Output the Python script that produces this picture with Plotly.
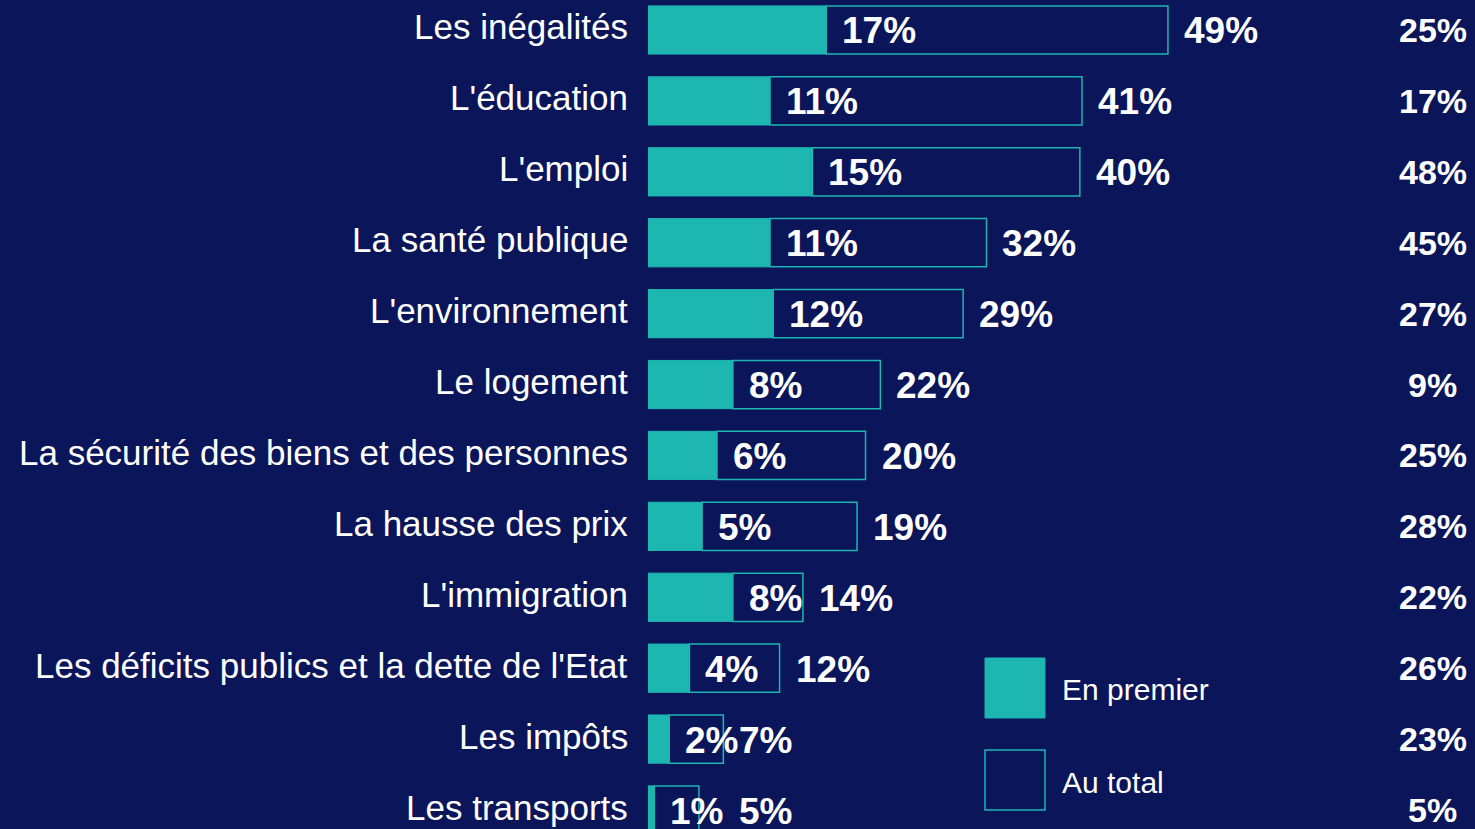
import plotly.graph_objects as go

categories = ["Les inégalités", "L'éducation", "L'emploi", "La santé publique",
              "L'environnement", "Le logement", "La sécurité des biens et des personnes",
              "La hausse des prix", "L'immigration",
              "Les déficits publics et la dette de l'Etat", "Les impôts", "Les transports"]
first_pct = [17, 11, 15, 11, 12, 8, 6, 5, 8, 4, 2, 1]
total_pct = [49, 41, 40, 32, 29, 22, 20, 19, 14, 12, 7, 5]
other_pct = [25, 17, 48, 45, 27, 9, 25, 28, 22, 26, 23, 5]
# bar lengths (unrounded)
first_len = [16.8, 11.5, 15.5, 11.5, 11.8, 8.0, 6.5, 5.1, 8.0, 3.9, 2.0, 0.6]
total_len = [49.0, 40.9, 40.7, 31.9, 29.7, 21.9, 20.5, 19.7, 14.6, 12.4, 7.1, 4.8]

BG = "#0b1559"
TEAL = "#1db6b1"
FONT = "Liberation Sans"

ypos = list(range(len(categories)))

fig = go.Figure()
fig.add_trace(go.Bar(
    y=ypos, x=first_len, orientation="h", width=0.68,
    marker=dict(color=TEAL, line=dict(color=TEAL, width=1)),
    name="En premier", showlegend=False, hoverinfo="skip"))
fig.add_trace(go.Bar(
    y=ypos, x=[t - f for t, f in zip(total_len, first_len)], base=first_len,
    orientation="h", width=0.68,
    marker=dict(color=BG, line=dict(color=TEAL, width=1.5)),
    name="Au total", showlegend=False, hoverinfo="skip"))

# extra horizontal nudge (px) for crowded total labels
total_nudge = {11: 24}

ann = []
for i, cat in enumerate(categories):
    ann.append(dict(x=0, y=i, xref="x", yref="y", text=cat, showarrow=False,
                    xanchor="right", xshift=-18, yshift=3,
                    font=dict(family=FONT, size=35, color="white")))
    ann.append(dict(x=first_len[i], y=i, xref="x", yref="y", text=f"<b>{first_pct[i]}%</b>",
                    showarrow=False, xanchor="left", xshift=14, yshift=-1,
                    font=dict(family=FONT, size=37, color="white")))
    ann.append(dict(x=total_len[i], y=i, xref="x", yref="y", text=f"<b>{total_pct[i]}%</b>",
                    showarrow=False, xanchor="left", xshift=14 + total_nudge.get(i, 0), yshift=-1,
                    font=dict(family=FONT, size=37, color="white")))
    ann.append(dict(x=0.949, y=i, xref="paper", yref="y", text=f"<b>{other_pct[i]}%</b>",
                    showarrow=False, xanchor="center",
                    font=dict(family=FONT, size=34, color="white")))

# legend
ann.append(dict(x=0.498, y=0.1677, xref="paper", yref="paper", text="En premier",
                showarrow=False, xanchor="left", yanchor="middle",
                font=dict(family=FONT, size=30, color="white")))
ann.append(dict(x=0.498, y=0.0555, xref="paper", yref="paper", text="Au total",
                showarrow=False, xanchor="left", yanchor="middle",
                font=dict(family=FONT, size=30, color="white")))
shapes = [
    dict(type="rect", xref="paper", yref="paper", x0=0.4075, x1=0.480, y0=0.1339, y1=0.2063,
         fillcolor=TEAL, line=dict(color=TEAL, width=1)),
    dict(type="rect", xref="paper", yref="paper", x0=0.4075, x1=0.480, y0=0.0229, y1=0.0953,
         fillcolor=BG, line=dict(color=TEAL, width=1.5)),
]

fig.update_layout(
    width=1475, height=829,
    margin=dict(l=648, r=0, t=0, b=0),
    paper_bgcolor=BG, plot_bgcolor=BG,
    barmode="overlay",
    xaxis=dict(range=[0, 77.94], visible=False, fixedrange=True),
    yaxis=dict(range=[11.268, -0.423], visible=False, fixedrange=True),
    annotations=ann, shapes=shapes,
    showlegend=False,
)

fig.write_html("out.html", config={"displayModeBar": False},
               post_script="document.body.style.margin='0';document.body.style.overflow='hidden';")
